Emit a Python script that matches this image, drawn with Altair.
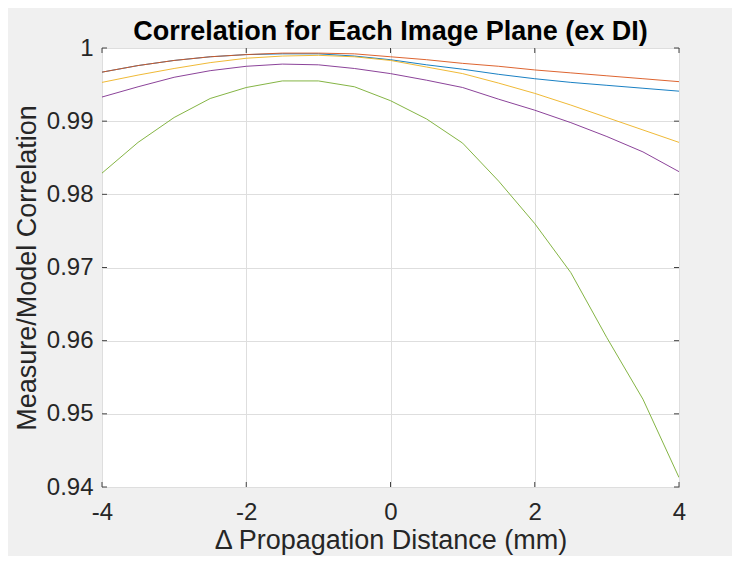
import altair as alt
import pandas as pd

# ---- data ----
distance = [-4, -3.5, -3, -2.5, -2, -1.5, -1, -0.5, 0, 0.5, 1, 1.5, 2, 2.5, 3, 3.5, 4]
plane_1 = [0.9967, 0.9976, 0.9983, 0.9988, 0.9991, 0.9992, 0.9992, 0.9989, 0.9984,
           0.9977, 0.9971, 0.9964, 0.9958, 0.9953, 0.9949, 0.9945, 0.9941]
plane_2 = [0.9967, 0.9976, 0.9983, 0.9988, 0.9991, 0.9993, 0.9993, 0.9992, 0.9988,
           0.9984, 0.9979, 0.9975, 0.9970, 0.9966, 0.9962, 0.9958, 0.9954]
plane_3 = [0.9953, 0.9963, 0.9972, 0.9980, 0.9986, 0.9989, 0.9990, 0.9988, 0.9983,
           0.9974, 0.9965, 0.9952, 0.9938, 0.9922, 0.9905, 0.9888, 0.9871]
plane_4 = [0.9933, 0.9947, 0.9960, 0.9969, 0.9975, 0.9978, 0.9977, 0.9972, 0.9965,
           0.9956, 0.9946, 0.9930, 0.9915, 0.9898, 0.9879, 0.9858, 0.9831]
plane_5 = [0.9829, 0.9871, 0.9905, 0.9931, 0.9946, 0.9955, 0.9955, 0.9947, 0.9928,
           0.9903, 0.9870, 0.9818, 0.9760, 0.9693, 0.9604, 0.9520, 0.9413]
series_names = ["Plane 1", "Plane 2", "Plane 3", "Plane 4", "Plane 5"]
series_colors = ["#0072BD", "#D95319", "#EDB120", "#7E2F8E", "#77AC30"]
x_ticks = [-4, -2, 0, 2, 4]
y_ticks = [0.94, 0.95, 0.96, 0.97, 0.98, 0.99, 1.0]

W, H = 577, 439
TXT = "#262626"
FONT = "Liberation Sans"

rows = []
for k, (name, vals) in enumerate(zip(series_names, [plane_1, plane_2, plane_3, plane_4, plane_5])):
    for d, v in zip(distance, vals):
        rows.append({"x": d, "y": v, "series": name, "order": k})
df = pd.DataFrame(rows)
xt = pd.DataFrame({"x": x_ticks})
yt = pd.DataFrame({"y": y_ticks})

xscale = alt.Scale(domain=[-4, 4], nice=False, zero=False)
yscale = alt.Scale(domain=[0.94, 1.0], nice=False, zero=False)
xaxis = alt.Axis(values=x_ticks, labelExpr="datum.value + ''",
                 title="Δ Propagation Distance (mm)")
yaxis = alt.Axis(values=y_ticks, format=".2~f", title="Measure/Model Correlation")

lines = alt.Chart(df).mark_line(strokeWidth=1, opacity=0.9, clip=True).encode(
    x=alt.X("x:Q", scale=xscale, axis=xaxis),
    y=alt.Y("y:Q", scale=yscale, axis=yaxis),
    color=alt.Color("series:N", scale=alt.Scale(domain=series_names, range=series_colors),
                    legend=None),
    order=alt.Order("order:Q"),
)

tick_col = "#444444"
bottom_ticks = alt.Chart(xt).mark_rule(color=tick_col, strokeWidth=1).encode(
    x=alt.X("x:Q", scale=xscale, axis=xaxis), y=alt.value(H), y2=alt.value(H - 5))
top_ticks = alt.Chart(xt).mark_rule(color=tick_col, strokeWidth=1).encode(
    x=alt.X("x:Q", scale=xscale, axis=xaxis), y=alt.value(0), y2=alt.value(5))
left_ticks = alt.Chart(yt).mark_rule(color=tick_col, strokeWidth=1).encode(
    y=alt.Y("y:Q", scale=yscale, axis=yaxis), x=alt.value(0), x2=alt.value(5))
right_ticks = alt.Chart(yt).mark_rule(color=tick_col, strokeWidth=1).encode(
    y=alt.Y("y:Q", scale=yscale, axis=yaxis), x=alt.value(W), x2=alt.value(W - 5))

chart = alt.layer(lines, bottom_ticks, top_ticks, left_ticks, right_ticks).properties(
    width=W, height=H,
    title=alt.TitleParams("Correlation for Each Image Plane (ex DI)", font=FONT,
                          fontSize=27, fontWeight="bold", color="#000000",
                          anchor="middle", offset=-10),
    autosize=alt.AutoSizeParams(type="none"),
    padding={"left": 94, "top": 40, "right": 53, "bottom": 69},
    background="#f0f0f0",
).configure_view(
    fill="white", stroke=tick_col, strokeWidth=1
).configure_axis(
    grid=True, gridColor="#dedede", gridWidth=1, tickSize=0, domain=False,
    labelFlush=False,
    labelFont=FONT, labelFontSize=24, labelColor=TXT,
    titleFont=FONT, titleFontSize=27, titleFontWeight="normal", titleColor=TXT,
).configure_axisX(
    labelPadding=13, titlePadding=3,
).configure_axisY(
    labelPadding=9, titlePadding=5,
)

chart.save("out.html", embed_options={"renderer": "svg", "actions": False})
